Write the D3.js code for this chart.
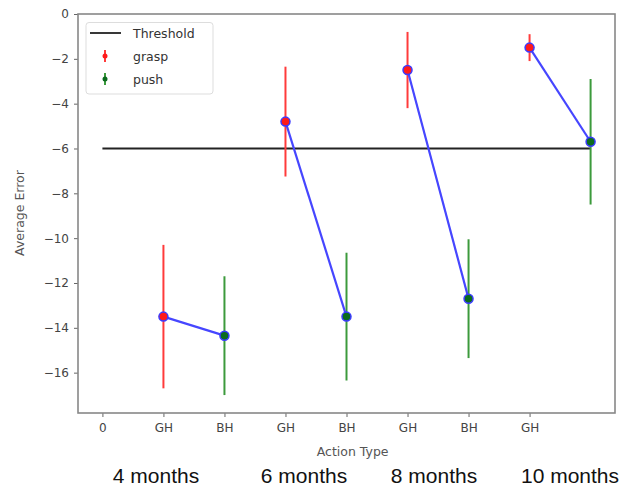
<!DOCTYPE html>
<html>
<head>
<meta charset="utf-8">
<script src="https://cdn.jsdelivr.net/npm/d3@7"></script>
<style>
  body { margin: 0; background: #fff; }
  svg { font-family: "DejaVu Sans", sans-serif; }
</style>
</head>
<body>
<div class="chart"></div>
<script>
// values
const tickLabels = ['0', 'GH', 'BH', 'GH', 'BH', 'GH', 'BH', 'GH'];
const graspX = [1, 3, 5, 7];
const graspMean = [-13.5, -4.8, -2.5, -1.5];
const graspErr = [3.2, 2.45, 1.7, 0.6];
const pushX = [2, 4, 6, 8];
const pushMean = [-14.35, -13.5, -12.7, -5.7];
const pushErr = [2.65, 2.85, 2.65, 2.8];
const threshold = -6;
const thresholdRange = [0, 8];
const yTicks = [0, -2, -4, -6, -8, -10, -12, -14, -16];
const groupLabels = ['4 months', '6 months', '8 months', '10 months'];
const groupCenters = [156, 304, 434, 570];

const width = 624;
const height = 488;
const svg = d3.select('.chart')
	.append('svg')
	.attr('width', width)
	.attr('height', height);

const x = d3.scaleLinear().domain([-0.4, 8.4]).range([78, 615]);
const y = d3.scaleLinear().domain([-17.8, 0]).range([413, 14]);

const grasp = graspX.map((d, i) => ({x: d, m: graspMean[i], e: graspErr[i]}));
const push = pushX.map((d, i) => ({x: d, m: pushMean[i], e: pushErr[i]}));

// axes
const xAxis = svg.append('g')
	.attr('transform', 'translate(0,413)')
	.call(d3.axisBottom(x).tickValues(d3.range(8)).tickFormat(i => tickLabels[i]).tickSize(4).tickPadding(6));
const yAxis = svg.append('g')
	.attr('transform', 'translate(78,0)')
	.call(d3.axisLeft(y).tickValues(yTicks).tickFormat(d => d === 0 ? '0' : '\u2212' + Math.abs(d)).tickSize(4).tickPadding(5));
[xAxis, yAxis].forEach(a => {
	a.select('.domain').remove();
	a.selectAll('line').attr('stroke', '#666');
	a.selectAll('text').attr('fill', '#444').attr('font-size', '12px').attr('font-family', '"DejaVu Sans", sans-serif');
});

svg.append('rect')
	.attr('x', x.range()[0]).attr('y', 14)
	.attr('width', x.range()[1] - x.range()[0]).attr('height', 413 - 14)
	.attr('fill', 'none').attr('stroke', '#888').attr('stroke-width', 1.6);

// threshold
svg.append('line')
	.attr('x1', x(thresholdRange[0])).attr('x2', x(thresholdRange[1]))
	.attr('y1', y(threshold)).attr('y2', y(threshold))
	.attr('stroke', '#222').attr('stroke-width', 1.8);

// error bars
svg.selectAll('line.grasp-err')
	.data(grasp)
	.enter()
	.append('line')
	.attr('class', 'grasp-err')
	.attr('x1', d => x(d.x)).attr('x2', d => x(d.x))
	.attr('y1', d => y(d.m + d.e)).attr('y2', d => y(d.m - d.e))
	.attr('stroke', '#ff3b3b').attr('stroke-width', 2);

svg.selectAll('line.push-err')
	.data(push)
	.enter()
	.append('line')
	.attr('class', 'push-err')
	.attr('x1', d => x(d.x)).attr('x2', d => x(d.x))
	.attr('y1', d => y(d.m + d.e)).attr('y2', d => y(d.m - d.e))
	.attr('stroke', '#3c9a3c').attr('stroke-width', 2);

// connecting lines
svg.selectAll('line.link')
	.data(grasp)
	.enter()
	.append('line')
	.attr('class', 'link')
	.attr('x1', d => x(d.x)).attr('y1', d => y(d.m))
	.attr('x2', (d, i) => x(push[i].x)).attr('y2', (d, i) => y(push[i].m))
	.attr('stroke', '#4646ff').attr('stroke-width', 2.2);

// markers
svg.selectAll('circle.grasp')
	.data(grasp)
	.enter()
	.append('circle')
	.attr('class', 'grasp')
	.attr('cx', d => x(d.x)).attr('cy', d => y(d.m))
	.attr('r', 4.5)
	.attr('fill', '#ff1a1a').attr('stroke', '#3a3aff').attr('stroke-width', 1.5);

svg.selectAll('circle.push')
	.data(push)
	.enter()
	.append('circle')
	.attr('class', 'push')
	.attr('cx', d => x(d.x)).attr('cy', d => y(d.m))
	.attr('r', 4.5)
	.attr('fill', '#0b6b1e').attr('stroke', '#3a3aff').attr('stroke-width', 1.5);

// legend
const legend = svg.append('g');
legend.append('rect')
	.attr('x', 86).attr('y', 22.5).attr('width', 127).attr('height', 71.5).attr('rx', 3)
	.attr('fill', '#fff').attr('stroke', '#ddd');
legend.append('line')
	.attr('x1', 90).attr('x2', 121).attr('y1', 33).attr('y2', 33)
	.attr('stroke', '#222').attr('stroke-width', 1.8);
[['#ff3b3b', '#ff1a1a', 56], ['#3c9a3c', '#0b6b1e', 79]].forEach(c => {
	legend.append('line')
		.attr('x1', 105).attr('x2', 105).attr('y1', c[2] - 6).attr('y2', c[2] + 6)
		.attr('stroke', c[0]).attr('stroke-width', 2);
	legend.append('circle')
		.attr('cx', 105).attr('cy', c[2]).attr('r', 2.5).attr('fill', c[1]);
});
legend.selectAll('text')
	.data([['Threshold', 33], ['grasp', 56], ['push', 79]])
	.enter()
	.append('text')
	.attr('x', 133).attr('y', d => d[1] + 4.5)
	.text(d => d[0])
	.attr('font-size', '12.5px')
	.attr('fill', '#333');

// axis titles
svg.append('text')
	.attr('x', x(4.1)).attr('y', 456)
	.attr('text-anchor', 'middle')
	.attr('font-size', '12.5px')
	.attr('fill', '#555')
	.text('Action Type');
svg.append('text')
	.attr('transform', 'translate(24,213) rotate(-90)')
	.attr('text-anchor', 'middle')
	.attr('font-size', '12.5px')
	.attr('fill', '#555')
	.text('Average Error');

// group labels
svg.selectAll('text.group')
	.data(groupLabels)
	.enter()
	.append('text')
	.attr('class', 'group')
	.attr('x', (d, i) => groupCenters[i])
	.attr('y', 483)
	.attr('text-anchor', 'middle')
	.attr('font-family', '"Liberation Sans", Arial, sans-serif')
	.attr('font-size', '21px')
	.attr('fill', '#111')
	.text(d => d);
</script>
</body>
</html>
